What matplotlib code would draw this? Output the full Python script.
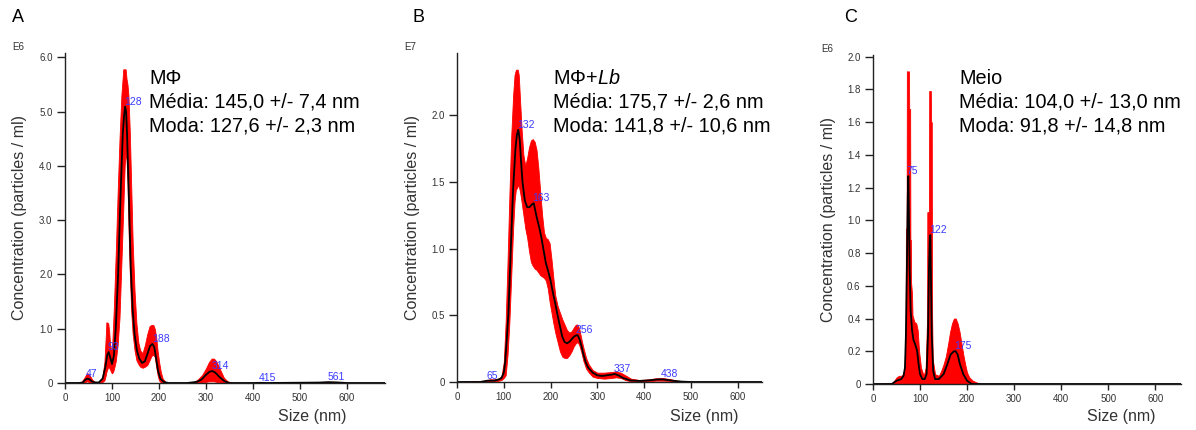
import matplotlib
matplotlib.use("Agg")
import matplotlib.pyplot as plt

plt.rcParams["font.family"] = ["Liberation Sans", "DejaVu Sans"]
plt.rcParams["mathtext.fontset"] = "custom"
plt.rcParams["mathtext.rm"] = "Liberation Sans"
plt.rcParams["mathtext.it"] = "Liberation Sans:italic"

W, H = 1196, 430
TEXT_GRAY = "#333333"
PEAK_BLUE = "#3b3bff"

# ---- panel A: M-Phi ----
A_SIZE = [0, 30, 38, 42, 47, 52, 57, 63, 72, 80,
          86, 90, 93, 96, 100, 104, 108, 113, 118, 123,
          126, 128, 130, 132, 136, 140, 144, 148, 153, 158,
          164, 170, 176, 181, 186, 190, 194, 198, 203, 210,
          220, 260, 280, 290, 300, 308, 314, 320, 330, 340,
          350, 400, 415, 430, 540, 561, 580, 600, 681]
A_MEAN = [0, 0, 0.01, 0.05, 0.08, 0.07, 0.03, 0.01, 0.01, 0.08,
          0.3, 0.52, 0.57, 0.48, 0.35, 0.5, 1.0, 2.0, 3.4, 4.6,
          4.95, 5.09, 5.0, 4.6, 3.4, 2.1, 1.35, 0.9, 0.6, 0.45,
          0.37, 0.4, 0.55, 0.68, 0.72, 0.66, 0.45, 0.22, 0.08, 0.02,
          0, 0, 0.02, 0.06, 0.15, 0.21, 0.22, 0.19, 0.1, 0.03,
          0, 0, 0.003, 0, 0.008, 0.015, 0.01, 0, 0]
A_BAND_SIZE = [0, 34, 40, 44, 47, 50, 54, 58, 64, 74,
               80, 84, 87, 88, 92, 94, 96, 98, 100, 102,
               104, 108, 112, 116, 120, 124, 127, 129, 131, 133,
               135, 138, 141, 144, 148, 152, 156, 160, 165, 170,
               175, 180, 184, 188, 191, 194, 197, 200, 204, 208,
               214, 222, 270, 282, 292, 300, 306, 312, 317, 322,
               330, 338, 346, 360, 530, 545, 561, 580, 600, 681]
A_UPPER = [0, 0.01, 0.08, 0.14, 0.18, 0.17, 0.12, 0.06, 0.02, 0.02,
           0.12, 0.4, 0.9, 1.12, 1.1, 0.95, 0.7, 0.62, 0.6, 1.0,
           1.4, 2.4, 3.5, 4.5, 5.3, 5.78, 5.78, 5.78, 5.6, 5.5,
           5.3, 4.6, 3.6, 2.6, 1.7, 1.1, 0.75, 0.6, 0.55, 0.7,
           0.9, 1.05, 1.07, 1.07, 1.0, 0.85, 0.6, 0.4, 0.2, 0.08,
           0.02, 0, 0, 0.06, 0.15, 0.27, 0.38, 0.45, 0.45, 0.4,
           0.25, 0.1, 0.03, 0, 0, 0.02, 0.025, 0.02, 0, 0]
A_LOWER = [0, 0, 0.01, 0.02, 0.03, 0.02, 0.01, 0, 0, 0,
           0.02, 0.05, 0.15, 0.2, 0.3, 0.28, 0.25, 0.2, 0.18, 0.2,
           0.25, 0.4, 0.7, 1.2, 2.2, 3.2, 4.0, 4.25, 4.1, 3.7,
           2.9, 2.0, 1.3, 0.9, 0.6, 0.42, 0.35, 0.3, 0.28, 0.3,
           0.33, 0.42, 0.5, 0.52, 0.48, 0.3, 0.15, 0.05, 0.01, 0,
           0, 0, 0, 0, 0.01, 0.02, 0.03, 0.03, 0.03, 0.02,
           0.01, 0, 0, 0, 0, 0, 0.005, 0, 0, 0]
A_PEAKS = ["47", "93", "128", "188", "314", "415", "561"]
A_PEAK_X = [47, 93, 128, 188, 314, 415, 561]
A_PEAK_Y = [0.08, 0.57, 5.09, 0.72, 0.22, 0.0, 0.015]
A_YTICKS = [0, 1, 2, 3, 4, 5, 6]
A_YLABELS = ["0", "1.0", "2.0", "3.0", "4.0", "5.0", "6.0"]

# ---- panel B: M-Phi + Lb ----
B_SIZE = [0, 50, 65, 80, 90, 95, 100, 103, 106, 110,
          115, 120, 125, 128, 131, 134, 137, 140, 145, 150,
          155, 160, 164, 170, 175, 180, 185, 190, 195, 200,
          205, 210, 215, 220, 225, 230, 235, 240, 245, 250,
          255, 258, 262, 266, 270, 275, 280, 290, 300, 310,
          320, 330, 337, 345, 355, 370, 390, 410, 425, 438,
          450, 465, 480, 500, 652]
B_MEAN = [0, 0, 0.01, 0.01, 0.02, 0.03, 0.07, 0.15, 0.3, 0.52,
          1.0, 1.45, 1.75, 1.85, 1.89, 1.82, 1.65, 1.5, 1.36, 1.31,
          1.31, 1.33, 1.34, 1.24, 1.17, 1.09, 0.99, 0.89, 0.83, 0.76,
          0.67, 0.59, 0.5, 0.42, 0.34, 0.3, 0.29, 0.3, 0.32, 0.34,
          0.35, 0.35, 0.32, 0.27, 0.21, 0.15, 0.11, 0.07, 0.05, 0.045,
          0.05, 0.055, 0.06, 0.05, 0.03, 0.012, 0.008, 0.012, 0.018, 0.02,
          0.015, 0.008, 0.003, 0, 0]
B_BAND_SIZE = [0, 60, 70, 85, 95, 100, 104, 108, 112, 116,
               120, 123, 126, 128, 130, 132, 135, 138, 142, 146,
               150, 154, 158, 162, 166, 170, 174, 178, 182, 186,
               190, 194, 198, 202, 206, 210, 215, 220, 225, 230,
               235, 240, 245, 250, 254, 258, 262, 266, 270, 276,
               282, 290, 300, 315, 330, 340, 350, 360, 372, 390,
               410, 425, 440, 455, 470, 500, 652]
B_UPPER = [0, 0.01, 0.02, 0.02, 0.04, 0.15, 0.45, 0.9, 1.4, 1.85,
           2.15, 2.3, 2.34, 2.34, 2.34, 2.3, 2.1, 1.9, 1.7, 1.62,
           1.68, 1.76, 1.81, 1.82, 1.8, 1.74, 1.6, 1.42, 1.25, 1.12,
           1.08, 1.07, 1.04, 0.92, 0.78, 0.65, 0.57, 0.52, 0.47, 0.43,
           0.39, 0.37, 0.38, 0.41, 0.43, 0.43, 0.39, 0.32, 0.26, 0.18,
           0.13, 0.09, 0.07, 0.07, 0.075, 0.08, 0.07, 0.05, 0.025, 0.015,
           0.02, 0.028, 0.03, 0.022, 0.01, 0, 0]
B_LOWER = [0, 0, 0, 0.005, 0.015, 0.03, 0.05, 0.2, 0.45, 0.8,
           1.15, 1.35, 1.45, 1.45, 1.47, 1.47, 1.42, 1.35, 1.25, 1.15,
           1.08, 0.98, 0.9, 0.87, 0.85, 0.84, 0.82, 0.8, 0.79, 0.78,
           0.76, 0.7, 0.6, 0.52, 0.44, 0.37, 0.3, 0.23, 0.19, 0.18,
           0.18, 0.2, 0.23, 0.27, 0.29, 0.3, 0.27, 0.22, 0.16, 0.1,
           0.07, 0.04, 0.03, 0.025, 0.03, 0.035, 0.03, 0.015, 0.005, 0.003,
           0.005, 0.01, 0.01, 0.008, 0.002, 0, 0]
B_PEAKS = ["65", "132", "163", "256", "337", "438"]
B_PEAK_X = [65, 131, 163, 256, 337, 438]
B_PEAK_Y = [0.01, 1.89, 1.34, 0.35, 0.06, 0.02]
B_YTICKS = [0, 0.5, 1.0, 1.5, 2.0]
B_YLABELS = ["0", "0.5", "1.0", "1.5", "2.0"]

# ---- panel C: Meio ----
C_SIZE = [0, 40, 50, 60, 65, 68, 70, 72, 74, 75,
          76, 78, 80, 83, 86, 90, 94, 97, 100, 105,
          110, 114, 117, 119, 121, 122, 123, 125, 128, 132,
          140, 150, 158, 165, 172, 176, 180, 185, 192, 200,
          210, 655]
C_MEAN = [0, 0, 0.02, 0.03, 0.05, 0.1, 0.3, 0.7, 1.15, 1.27,
          1.1, 0.7, 0.45, 0.33, 0.27, 0.24, 0.2, 0.12, 0.06, 0.03,
          0.03, 0.06, 0.3, 0.7, 0.9, 0.91, 0.7, 0.3, 0.08, 0.03,
          0.03, 0.06, 0.12, 0.18, 0.2, 0.2, 0.18, 0.12, 0.06, 0.02,
          0, 0]
C_BAND_SIZE = [0, 40, 45, 50, 55, 60, 64, 67, 69, 69.5,
               70, 71.5, 72, 76.5, 77, 79, 79.5, 80.5, 81, 83,
               84, 88, 92, 95, 98, 102, 108, 112, 114, 115,
               115.5, 119, 119.5, 123, 123.5, 125, 125.5, 127, 132, 140,
               145, 150, 155, 160, 164, 168, 172, 176, 180, 184,
               188, 192, 196, 200, 205, 212, 220, 230, 655]
C_UPPER = [0, 0.005, 0.02, 0.04, 0.05, 0.05, 0.06, 0.1, 0.25, 0.3,
           0.95, 0.95, 1.91, 1.91, 1.68, 1.68, 0.88, 0.88, 0.62, 0.55,
           0.42, 0.38, 0.37, 0.33, 0.2, 0.1, 0.05, 0.1, 0.3, 0.4,
           1.05, 1.05, 1.79, 1.79, 1.6, 1.6, 0.45, 0.15, 0.06, 0.05,
           0.08, 0.12, 0.17, 0.25, 0.32, 0.37, 0.4, 0.4, 0.37, 0.32,
           0.25, 0.18, 0.12, 0.07, 0.04, 0.02, 0.01, 0, 0]
C_PEAKS = ["75", "122", "175"]
C_PEAK_X = [75, 122, 175]
C_PEAK_Y = [1.27, 0.91, 0.2]
C_YTICKS = [0, 0.2, 0.4, 0.6, 0.8, 1.0, 1.2, 1.4, 1.6, 1.8, 2.0]
C_YLABELS = ["0", "0.2", "0.4", "0.6", "0.8", "1.0", "1.2", "1.4", "1.6", "1.8", "2.0"]

X_TICKS = [0, 100, 200, 300, 400, 500, 600]


def px_axes(left, right, bottom, top):
    return [left / W, 1 - bottom / H, (right - left) / W, (bottom - top) / H]


def draw_panel(fig, rect, xmax, ymax, size, mean, band_size, upper, lower,
               peaks, peak_x, peak_y, yticks, ylabels):
    ax = fig.add_axes(rect)
    ax.fill_between(band_size, lower, upper, color="#ff0000", linewidth=0.6, edgecolor="#ff0000")
    ax.plot(size, mean, color="black", linewidth=1.3)
    for label, x, y in zip(peaks, peak_x, peak_y):
        ax.annotate(label, (x, y), xytext=(-1, 0), textcoords="offset points",
                    ha="left", va="bottom", fontsize=7.5, color=PEAK_BLUE)
    ax.set_xlim(0, xmax)
    ax.set_ylim(0, ymax)
    ax.set_xticks(X_TICKS)
    ax.set_xticklabels([str(t) for t in X_TICKS])
    ax.set_yticks(yticks)
    ax.set_yticklabels(ylabels)
    for side in ["top", "right"]:
        ax.spines[side].set_visible(False)
    for side in ["left", "bottom"]:
        ax.spines[side].set_color("#222222")
        ax.spines[side].set_linewidth(1.0)
    ax.tick_params(axis="both", colors="#222222", labelcolor=TEXT_GRAY, labelsize=7, width=1.0)
    ax.tick_params(axis="x", length=4, pad=3)
    ax.tick_params(axis="y", length=6, pad=3)
    return ax


fig = plt.figure(figsize=(W / 100, H / 100), dpi=100)

draw_panel(fig, px_axes(65, 385, 383, 53), 681, 6.08, A_SIZE, A_MEAN, A_BAND_SIZE,
           A_UPPER, A_LOWER, A_PEAKS, A_PEAK_X, A_PEAK_Y, A_YTICKS, A_YLABELS)
draw_panel(fig, px_axes(457, 762, 382, 53), 652, 2.465, B_SIZE, B_MEAN, B_BAND_SIZE,
           B_UPPER, B_LOWER, B_PEAKS, B_PEAK_X, B_PEAK_Y, B_YTICKS, B_YLABELS)
# the medium-only band sits on the baseline
draw_panel(fig, px_axes(873, 1181, 384, 55), 655, 2.01, C_SIZE, C_MEAN, C_BAND_SIZE,
           C_UPPER, 0, C_PEAKS, C_PEAK_X, C_PEAK_Y, C_YTICKS, C_YLABELS)


def ftext(x, y, s, **kw):
    fig.text(x / W, 1 - y / H, s, **kw)


# panel letters and exponent markers
for letter, x in [("A", 18), ("B", 418), ("C", 851)]:
    ftext(x, 17, letter, fontsize=13, ha="center", va="center", color="black")
for mark, x, y in [("E6", 18, 47), ("E7", 410, 47), ("E6", 827, 49)]:
    ftext(x, y, mark, fontsize=7, ha="center", va="center", color=TEXT_GRAY)

# axis labels
for x, y in [(20, 218), (412, 218), (828, 220)]:
    ftext(x, y, "Concentration (particles / ml)", fontsize=11.5, rotation=90,
          ha="center", va="center", color=TEXT_GRAY)
for x in [312, 704, 1121]:
    ftext(x, 417, "Size (nm)", fontsize=11.5, ha="center", va="center", color=TEXT_GRAY)

# summary blocks
blocks = [
    (149, ["MΦ", "Média: 145,0 +/- 7,4 nm", "Moda: 127,6 +/- 2,3 nm"]),
    (553, ["MΦ+$Lb$", "Média: 175,7 +/- 2,6 nm", "Moda: 141,8 +/- 10,6 nm"]),
    (959, ["Meio", "Média: 104,0 +/- 13,0 nm", "Moda: 91,8 +/- 14,8 nm"]),
]
for x, lines in blocks:
    for i, line in enumerate(lines):
        ftext(x, 78 + 24 * i, line, fontsize=14.3, ha="left", va="center", color="black")

fig.savefig("out.png", dpi=100)
